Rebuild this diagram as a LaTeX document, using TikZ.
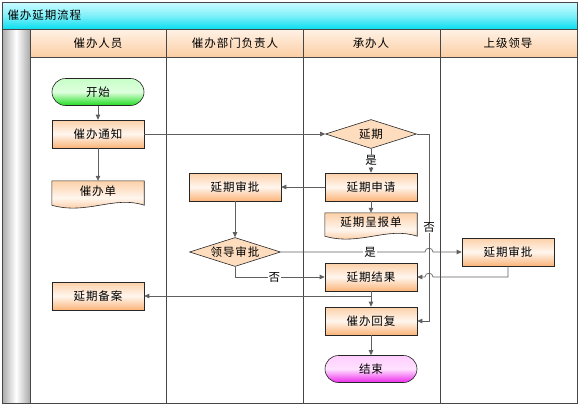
\documentclass[tikz,border=0pt]{standalone}
\usepackage{fontspec}
\setmainfont[LetterSpace=8]{Noto Sans CJK SC}
\usetikzlibrary{shapes.geometric,arrows.meta,calc}
\pgfdeclarelayer{docs}
\pgfsetlayers{docs,main}
\definecolor{lineg}{RGB}{95,95,95}
\definecolor{frameg}{RGB}{70,70,70}
\definecolor{oTop}{RGB}{252,208,168}
\definecolor{oMid}{RGB}{255,246,238}
\definecolor{oBot}{RGB}{251,180,120}
\definecolor{dia}{RGB}{253,221,190}
\definecolor{hTop}{RGB}{255,242,230}
\definecolor{hBot}{RGB}{252,206,164}
\definecolor{cTop}{RGB}{205,252,255}
\definecolor{cBot}{RGB}{10,222,240}
\definecolor{gEdge}{RGB}{170,170,170}
\definecolor{grTop}{RGB}{200,255,200}
\definecolor{grBot}{RGB}{30,220,30}
\definecolor{mTop}{RGB}{255,205,255}
\definecolor{mBot}{RGB}{235,40,235}
\tikzset{
  txt/.style={font=\fontsize{11.5}{13}\selectfont},
  box/.style={txt, draw=black!85, line width=0.6pt, top color=oTop, bottom color=oBot, middle color=oMid,
    minimum width=92pt, minimum height=28pt, inner sep=0pt},
  docnode/.style={txt, minimum width=92pt, inner sep=0pt},
  docfill/.style={draw=black!85, line width=0.6pt, top color=oTop, bottom color=oBot, middle color=oMid},
  decide/.style={txt, shape=diamond, draw=black!85, line width=0.6pt, fill=dia, aspect=3.2,
    minimum width=91pt, minimum height=29pt, inner sep=0pt},
  startnode/.style={txt, draw=black!85, line width=0.6pt, rounded corners=13.5pt, top color=grTop, bottom color=grBot, middle color=white!40!grTop,
    minimum width=92pt, minimum height=27pt, inner sep=0pt},
  endnode/.style={txt, draw=black!85, line width=0.6pt, rounded corners=13.5pt, top color=mTop, bottom color=mBot, middle color=white!40!mTop,
    minimum width=92pt, minimum height=27pt, inner sep=0pt},
  conn/.style={draw=lineg, line width=0.7pt, -{Triangle[length=5pt,width=4.5pt]}},
  plain/.style={draw=lineg, line width=0.7pt},
  lbl/.style={txt, fill=white, inner sep=1pt},
  frame/.style={draw=frameg, line width=0.7pt},
  hdr/.style={top color=hTop, bottom color=hBot}
}
\newcommand\docwave[1]{%
  \begin{pgfonlayer}{docs}
  \path[docfill] (#1.north west) -- (#1.north east) -- ($(#1.south east)+(0,4)$)
    .. controls ($(#1.south east)+(-30,-6)$) and ($(#1.south west)+(35,14)$) .. ($(#1.south west)+(0,4)$) -- cycle;
  \end{pgfonlayer}}
\begin{document}
\begin{tikzpicture}[x=1pt,y=-1pt]
\useasboundingbox (0,0) rectangle (582,408);
% title bar
\path[top color=cTop, bottom color=cBot, middle color=cTop!60!cBot] (2,2) rectangle (577,29);
\node[txt, anchor=west] (title) at (4,15.5) {催办延期流程};
% grey column
\path[left color=gEdge, right color=gEdge, middle color=white] (2,29) rectangle (30,403);
% headers
\path[hdr] (30,29) rectangle (577,57);
\node[txt] (h1) at (98,43) {催办人员};
\node[txt] (h2) at (235,43) {催办部门负责人};
\node[txt] (h3) at (371,43) {承办人};
\node[txt] (h4) at (508,43) {上级领导};
% frame lines
\draw[frame] (2,2) rectangle (577,403);
\draw[frame] (2,29) -- (577,29);
\draw[frame] (30,57) -- (577,57);
\draw[frame] (30,29) -- (30,403);
\draw[frame] (166,29) -- (166,403);
\draw[frame] (303,29) -- (303,403);
\draw[frame] (440,29) -- (440,403);
% nodes
\node[startnode] (start) at (98,92) {开始};
\node[box] (tz) at (98,134) {催办通知};
\node[docnode, minimum height=20pt] (cbd) at (98,191) {催办单};
\docwave{cbd}
\node[box] (sp2) at (235,187) {延期审批};
\node[decide] (ld) at (235,252) {领导审批};
\node[decide] (yq) at (371,134) {延期};
\node[box] (sq) at (371,187) {延期申请};
\node[docnode, minimum height=19pt] (cbd2) at (371,222.5) {延期呈报单};
\docwave{cbd2}
\node[box] (sp4) at (508,252) {延期审批};
\node[box] (jg) at (371,277) {延期结果};
\node[box] (hf) at (371,321) {催办回复};
\node[endnode] (end) at (371,369) {结束};
\node[box] (ba) at (98,296) {延期备案};
\coordinate (nox) at (429,0);
% connectors
\draw[conn] (start) -- (tz);
\draw[conn] (tz) -- (cbd);
\draw[conn] (tz) -- (yq);
\draw[conn] (yq) -- node[lbl] {是} (sq);
\draw[conn] (yq.east) -- (yq.east -| nox) -- node[lbl, pos=0.5] {否} (hf.east -| nox) -- (hf.east);
\draw[conn] (sq) -- (sp2);
\draw[conn] (sq) -- (cbd2);
\draw[conn] (sp2) -- (ld);
\draw[conn] (ld.east) -- node[lbl, pos=0.62] {是} ($(ld.east -| nox)+(-4,0)$)
  .. controls ($(ld.east -| nox)+(-4,-5)$) and ($(ld.east -| nox)+(4,-5)$) .. ($(ld.east -| nox)+(4,0)$) -- (sp4.west);
\draw[conn] (ld.south) |- node[lbl, pos=0.72] {否} (jg.west);
\draw[conn] (sp4.south) -- (sp4.south |- jg.east) -- ($(jg.east -| nox)+(4,0)$)
  .. controls ($(jg.east -| nox)+(4,-5)$) and ($(jg.east -| nox)+(-4,-5)$) .. ($(jg.east -| nox)+(-4,0)$) -- (jg.east);
\draw[conn] (jg) -- (hf);
\draw[conn] (jg.south) |- (ba.east);
\draw[conn] (hf) -- (end);
\end{tikzpicture}
\end{document}
